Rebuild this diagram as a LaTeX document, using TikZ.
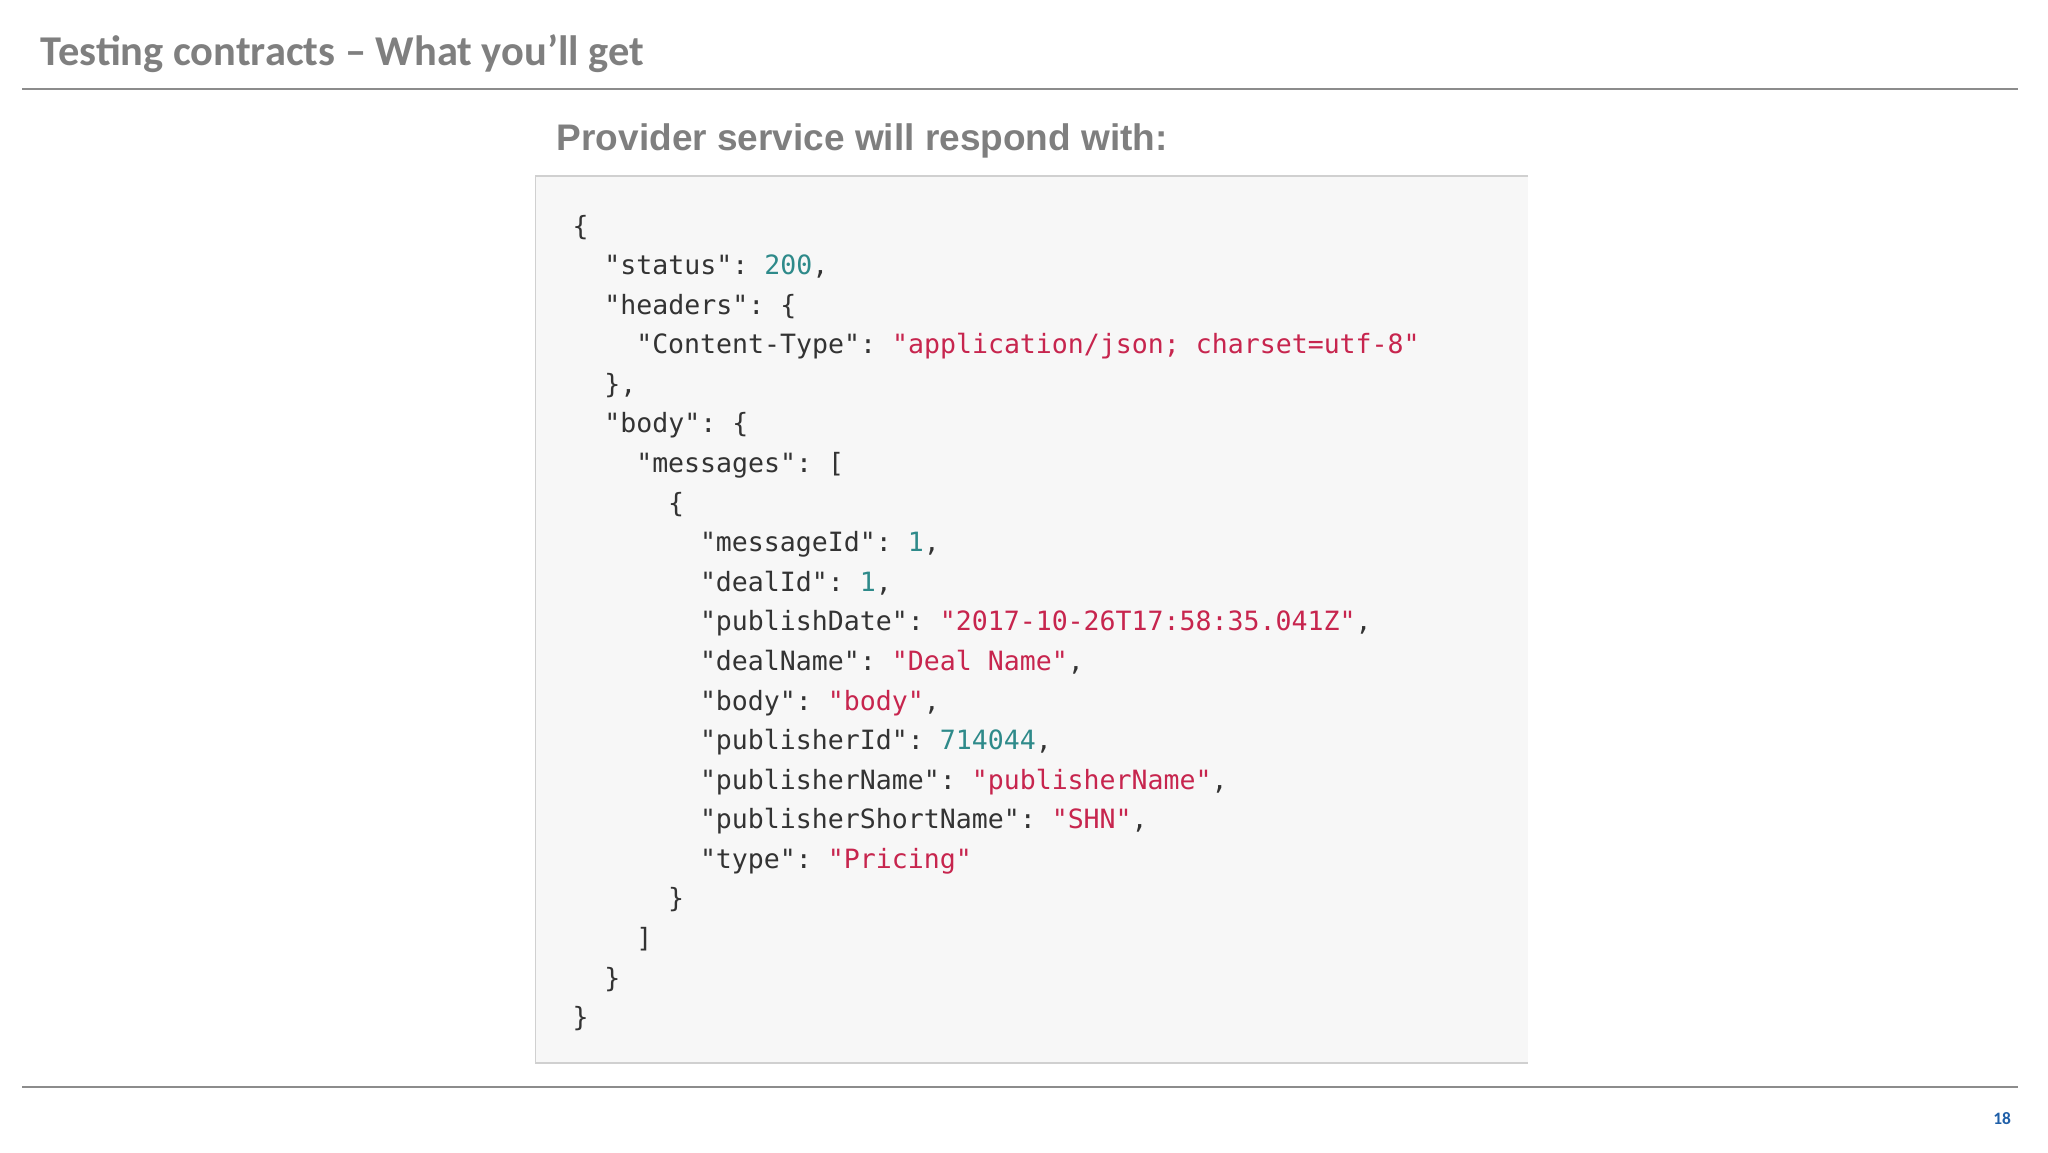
\documentclass[tikz,border=0pt]{standalone}
\usepackage{fontspec}
\setmainfont{Carlito}
\newfontfamily\subfont{Liberation Sans}
\newfontfamily\codefont{DejaVu Sans Mono}
\definecolor{titlegray}{HTML}{7F7F7F}
\definecolor{linegray}{HTML}{8C8C8C}
\definecolor{boxfill}{HTML}{F7F7F7}
\definecolor{boxline}{HTML}{D0D0D0}
\definecolor{keycol}{HTML}{333333}
\definecolor{strcol}{HTML}{C7254E}
\definecolor{numcol}{HTML}{2E8A8A}
\definecolor{pagenum}{HTML}{1F5FA8}
\newcommand\jstr[1]{\textcolor{strcol}{#1}}
\newcommand\jnum[1]{\textcolor{numcol}{#1}}
\tikzset{codeline/.style={anchor=base west,inner sep=0pt,text=keycol,font=\codefont\fontsize{12.2}{14}\selectfont}}
\begin{document}
\begin{tikzpicture}[x=0.6pt,y=-0.6pt]
\useasboundingbox (0,0) rectangle (1568,882);
\node[anchor=base west,inner sep=0pt,text=titlegray,font=\bfseries\fontsize{19.5}{22}\selectfont] (title) at (31,50) {Testing contracts – What you’ll get};
\draw[linegray,line width=0.8pt] (17,68) coordinate (t1) -- (1545,68) coordinate (t2);
\node[anchor=base west,inner sep=0pt,text=titlegray,font=\subfont\bfseries\fontsize{17}{20}\selectfont] (sub) at (426,115) {Provider service will respond with:};
\draw[boxline,fill=boxfill,line width=0.8pt] (1170,135) -- (410,135) -- (410,814) -- (1170,814);
\foreach \i/\ind/\txt in {
 0/0/{\{},
 1/2/{"status":\ \jnum{200},},
 2/2/{"headers":\ \{},
 3/4/{"Content-Type":\ \jstr{"application/json;\ charset=utf-8"}},
 4/2/{\},},
 5/2/{"body":\ \{},
 6/4/{"messages":\ [},
 7/6/{\{},
 8/8/{"messageId":\ \jnum{1},},
 9/8/{"dealId":\ \jnum{1},},
 10/8/{"publishDate":\ \jstr{"2017-10-26T17:58:35.041Z"},},
 11/8/{"dealName":\ \jstr{"Deal\ Name"},},
 12/8/{"body":\ \jstr{"body"},},
 13/8/{"publisherId":\ \jnum{714044},},
 14/8/{"publisherName":\ \jstr{"publisherName"},},
 15/8/{"publisherShortName":\ \jstr{"SHN"},},
 16/8/{"type":\ \jstr{"Pricing"}},
 17/6/{\}},
 18/4/{]},
 19/2/{\}},
 20/0/{\}}}
 \node[codeline] (l\i) at ({438+\ind*12.2},{180+\i*30.3}) {\txt};
\draw[linegray,line width=0.8pt] (17,832) coordinate (b1) -- (1545,832) coordinate (b2);
\node[anchor=base east,inner sep=0pt,text=pagenum,font=\bfseries\fontsize{8}{10}\selectfont] (pg) at (1540,861) {18};
\end{tikzpicture}
\end{document}
